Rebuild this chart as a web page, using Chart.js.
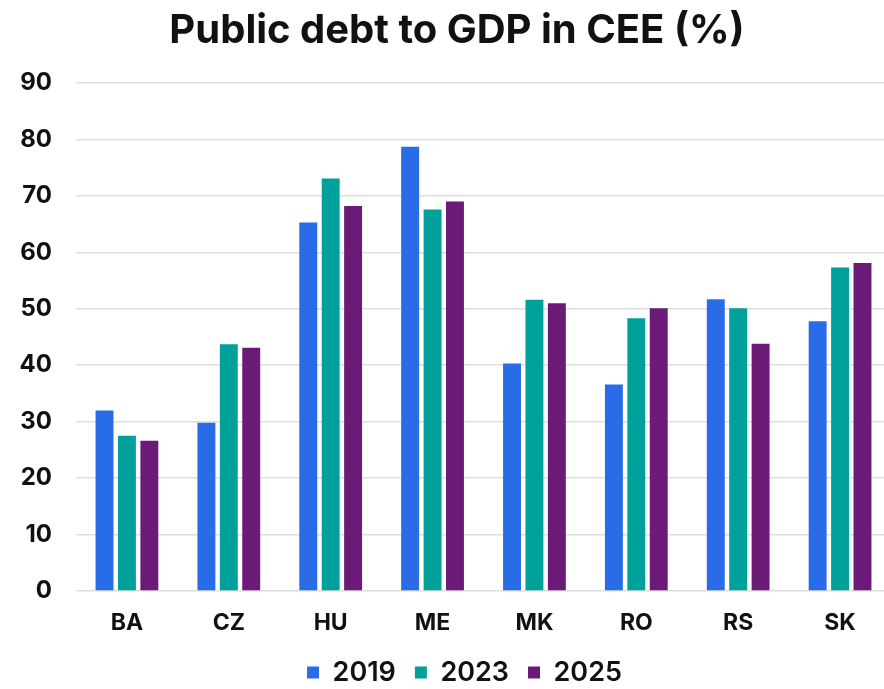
<!DOCTYPE html>
<html>
<head>
<meta charset="utf-8">
<script src="https://cdn.jsdelivr.net/npm/chart.js@4"></script>
<style>
  html, body { margin: 0; padding: 0; background: #ffffff; overflow: hidden; }
  #wrap { width: 884px; height: 689px; overflow: hidden; }
</style>
</head>
<body>
<div id="wrap"><canvas id="chart" width="914" height="696"></canvas></div>
<script>
// Public debt as a share of GDP, by country
const countries = ['BA', 'CZ', 'HU', 'ME', 'MK', 'RO', 'RS', 'SK'];
const debt2019 = [32.0, 29.8, 65.3, 78.7, 40.3, 36.6, 51.7, 47.8];
const debt2023 = [27.5, 43.7, 73.1, 67.6, 51.6, 48.3, 50.1, 57.3];
const debt2025 = [26.6, 43.1, 68.2, 69.0, 51.0, 50.1, 43.8, 58.1];
const yTicks = [0, 10, 20, 30, 40, 50, 60, 70, 80, 90];

const fontFamily = 'Inter, "Liberation Sans", Arial, sans-serif';

// Nudge the title and legend boxes to the right so they sit centred on the visible page
const centreBlocks = {
  id: 'centreBlocks',
  afterLayout(chart) {
    if (chart.titleBlock) { chart.titleBlock.left += 11.5; chart.titleBlock.right += 11.5; }
    if (chart.legend) { chart.legend.left += 19; chart.legend.right += 19; }
  }
};

new Chart(document.getElementById('chart'), {
  type: 'bar',
  data: {
    labels: countries,
    datasets: [
      { label: '2019', data: debt2019, backgroundColor: '#2a6ce8' },
      { label: '2023', data: debt2023, backgroundColor: '#00a19b' },
      { label: '2025', data: debt2025, backgroundColor: '#6b1a78' }
    ]
  },
  plugins: [centreBlocks],
  options: {
    responsive: false,
    animation: false,
    layout: { padding: { left: 0, right: 23, top: 0, bottom: 0 } },
    datasets: { bar: { categoryPercentage: 0.66, barPercentage: 0.8 } },
    plugins: {
      title: {
        display: true,
        text: 'Public debt to GDP in CEE (%)',
        color: '#111111',
        font: { family: fontFamily, size: 40, weight: '700' },
        padding: { top: 7, bottom: 28 }
      },
      legend: {
        position: 'bottom',
        labels: {
          color: '#111111',
          boxWidth: 12,
          boxHeight: 12,
          padding: 19,
          font: { family: fontFamily, size: 27, weight: '600' }
        }
      },
      tooltip: { enabled: false }
    },
    scales: {
      x: {
        afterFit: (scale) => { scale.height = 49; },
        grid: { display: false, drawTicks: false },
        border: { display: false },
        ticks: {
          color: '#111111',
          padding: 18,
          font: { family: fontFamily, size: 23, weight: '700' }
        }
      },
      y: {
        min: 0,
        max: 90,
        afterFit: (scale) => { scale.width = 76; },
        afterBuildTicks: (scale) => { scale.ticks = yTicks.map(v => ({ value: v })); },
        grid: { color: '#dddddd', lineWidth: 1.5, drawTicks: false },
        border: { display: false },
        ticks: {
          color: '#111111',
          padding: 24,
          font: { family: fontFamily, size: 24, weight: '700' }
        }
      }
    }
  }
});
</script>
</body>
</html>
